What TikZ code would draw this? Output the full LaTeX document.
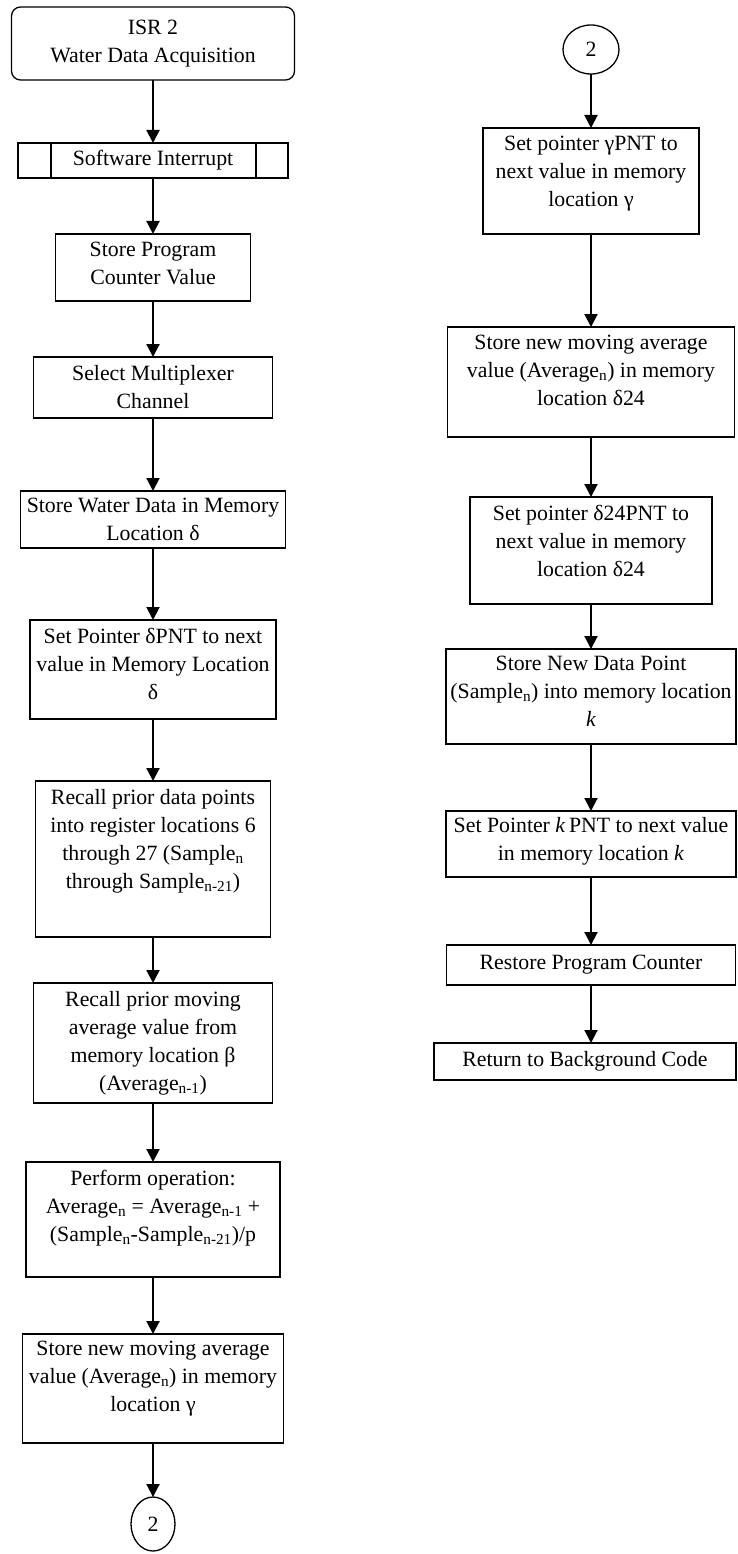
\documentclass[tikz,border=0pt]{standalone}
\usepackage{fontspec}
\setmainfont{Liberation Serif}
\usetikzlibrary{arrows.meta,shapes.geometric}
\tikzset{
  box/.style={draw, line width=1.3pt, rectangle, inner sep=0pt, outer sep=0pt},
  oval/.style={draw, line width=1.3pt, ellipse, inner sep=0pt, outer sep=0pt, font=\fontsize{21.8}{28}\selectfont},
  txt/.style={anchor=north, inner sep=0pt, align=center, font=\fontsize{21.8}{28}\selectfont, execute at begin node={\rule{0pt}{19.6pt}}},
  arr/.style={draw, line width=2pt, -{Triangle[length=13pt,width=13pt]}}
}
\begin{document}
\begin{tikzpicture}[x=1pt,y=-1pt]
\useasboundingbox (0,0) rectangle (737,1554);
% ---------- left column ----------
\node[box, rounded corners=9pt, minimum width=283pt, minimum height=73pt] (isr) at (153,43.5) {};
\node[txt, yshift=-13pt] at (isr.north) {ISR 2\\Water Data Acquisition};

\node[box, minimum width=270pt, minimum height=35pt, font=\fontsize{21.8}{28}\selectfont] (si) at (153,160.5) {Software Interrupt};
\draw[line width=1.3pt] ([xshift=33pt]si.north west) -- ([xshift=33pt]si.south west);
\draw[line width=1.3pt] ([xshift=-32pt]si.north east) -- ([xshift=-32pt]si.south east);

\node[box, minimum width=195pt, minimum height=67pt] (spc) at (153,267.5) {};
\node[txt, yshift=-8pt] at (spc.north) {Store Program\\Counter Value};

\node[box, minimum width=239pt, minimum height=61pt] (sel) at (153,387.5) {};
\node[txt, yshift=-8pt] at (sel.north) {Select Multiplexer\\Channel};

\node[box, minimum width=265pt, minimum height=57pt] (swd) at (153,519.5) {};
\node[txt, yshift=-7pt] at (swd.north) {Store Water Data in Memory\\Location δ};

\node[box, minimum width=246pt, minimum height=99pt] (sdp) at (153,669.5) {};
\node[txt, yshift=-8pt] at (sdp.north) {Set Pointer δPNT to next\\value in Memory Location\\δ};

\node[box, minimum width=235pt, minimum height=156pt] (rdp) at (153,859) {};
\node[txt, yshift=-8pt] at (rdp.north) {Recall prior data points\\into register locations 6\\through 27 (Sample\textsubscript{n}\\through Sample\textsubscript{n-21})};

\node[box, minimum width=239pt, minimum height=120pt] (rav) at (153,1043) {};
\node[txt, yshift=-8pt] at (rav.north) {Recall prior moving\\average value from\\memory location β\\(Average\textsubscript{n-1})};

\node[box, minimum width=254pt, minimum height=115pt] (perf) at (153,1219.5) {};
\node[txt, yshift=-8pt] at (perf.north) {Perform operation:\\Average\textsubscript{n} = Average\textsubscript{n-1} +\\(Sample\textsubscript{n}-Sample\textsubscript{n-21})/p};

\node[box, minimum width=261pt, minimum height=109pt] (sag) at (153,1388.5) {};
\node[txt, yshift=-7pt] at (sag.north) {Store new moving average\\value (Average\textsubscript{n}) in memory\\location γ};

\node[oval, minimum width=44pt, minimum height=54pt] (c1) at (153,1524) {2};

% ---------- right column ----------
\node[oval, minimum width=56pt, minimum height=49pt] (c2) at (591,49.5) {2};

\node[box, minimum width=216pt, minimum height=106pt] (gp) at (591,181) {};
\node[txt, yshift=-8pt] at (gp.north) {Set pointer γPNT to\\next value in memory\\location γ};

\node[box, minimum width=287pt, minimum height=110pt] (sad) at (591,382) {};
\node[txt, yshift=-8pt] at (sad.north) {Store new moving average\\value (Average\textsubscript{n}) in memory\\location δ24};

\node[box, minimum width=242pt, minimum height=107pt] (dp) at (591,550.5) {};
\node[txt, yshift=-8pt] at (dp.north) {Set pointer δ24PNT to\\next value in memory\\location δ24};

\node[box, minimum width=290pt, minimum height=95pt] (snd) at (591,696.5) {};
\node[txt, yshift=-7pt] at (snd.north) {Store New Data Point\\(Sample\textsubscript{n}) into memory location\\\textit{k}};

\node[box, minimum width=290pt, minimum height=66pt] (kp) at (591,844) {};
\node[txt, yshift=-6.4pt] at (kp.north) {Set Pointer \textit{k}\,PNT to next value\\in memory location \textit{k}};

\node[box, minimum width=289pt, minimum height=40pt, font=\fontsize{21.8}{28}\selectfont] (rpc) at (591,965) {Restore Program Counter};

\node[box, minimum width=302pt, minimum height=37pt, font=\fontsize{21.8}{28}\selectfont] (ret) at (585,1061.5) {Return to Background Code};

% ---------- connectors ----------
\foreach \a/\b in {isr/si, si/spc, spc/sel, sel/swd, swd/sdp, sdp/rdp, rdp/rav, rav/perf, perf/sag, sag/c1,
                   c2/gp, gp/sad, sad/dp, dp/snd, snd/kp, kp/rpc, rpc/ret}
  \draw[arr] (\a.south) -- (\a.south |- \b.north);
\end{tikzpicture}
\end{document}
